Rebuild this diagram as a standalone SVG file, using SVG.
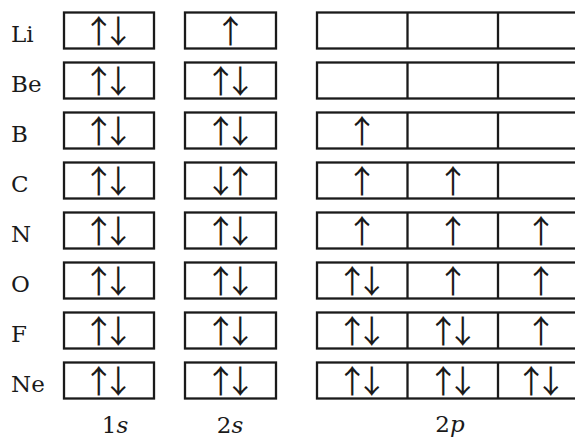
<svg xmlns="http://www.w3.org/2000/svg" width="575" height="438" viewBox="0 0 575 438">
<style>
.box{fill:none;stroke:#1a1a1a;stroke-width:2.3}
.lbl{font-family:"DejaVu Serif",serif;font-size:23px;fill:#1a1a1a}
.ar{font-family:"Noto Sans CJK SC",sans-serif;font-size:32px;fill:#1a1a1a;text-anchor:middle;letter-spacing:-12.5px}
.ax{font-family:"DejaVu Serif",serif;font-size:23px;fill:#1a1a1a;text-anchor:middle}
</style>
<rect width="575" height="438" fill="#fff"/>
<defs>
<g id="row">
<rect class="box" x="64" y="0" width="90" height="36"/>
<rect class="box" x="185" y="0" width="91" height="36"/>
<rect class="box" x="317" y="0" width="272" height="36"/>
<line class="box" x1="407.5" y1="0" x2="407.5" y2="36"/>
<line class="box" x1="498" y1="0" x2="498" y2="36"/>
</g>
</defs>
<g id="Li" transform="translate(0,12.5)"><use href="#row"/><text class="lbl" x="11" y="29">Li</text><text class="ar" x="102.25" y="30">↑↓</text><text class="ar" x="224.25" y="30">↑</text></g>
<g id="Be" transform="translate(0,62.5)"><use href="#row"/><text class="lbl" x="11" y="29">Be</text><text class="ar" x="102.25" y="30">↑↓</text><text class="ar" x="224.25" y="30">↑↓</text></g>
<g id="B" transform="translate(0,112.5)"><use href="#row"/><text class="lbl" x="11" y="29">B</text><text class="ar" x="102.25" y="30">↑↓</text><text class="ar" x="224.25" y="30">↑↓</text><text class="ar" x="355.75" y="30">↑</text></g>
<g id="C" transform="translate(0,162.5)"><use href="#row"/><text class="lbl" x="11" y="29">C</text><text class="ar" x="102.25" y="30">↑↓</text><text class="ar" x="224.25" y="30">↓↑</text><text class="ar" x="355.75" y="30">↑</text><text class="ar" x="446.75" y="30">↑</text></g>
<g id="N" transform="translate(0,212.5)"><use href="#row"/><text class="lbl" x="11" y="29">N</text><text class="ar" x="102.25" y="30">↑↓</text><text class="ar" x="224.25" y="30">↑↓</text><text class="ar" x="355.75" y="30">↑</text><text class="ar" x="446.75" y="30">↑</text><text class="ar" x="534.75" y="30">↑</text></g>
<g id="O" transform="translate(0,262.5)"><use href="#row"/><text class="lbl" x="11" y="29">O</text><text class="ar" x="102.25" y="30">↑↓</text><text class="ar" x="224.25" y="30">↑↓</text><text class="ar" x="355.75" y="30">↑↓</text><text class="ar" x="446.75" y="30">↑</text><text class="ar" x="534.75" y="30">↑</text></g>
<g id="F" transform="translate(0,312.5)"><use href="#row"/><text class="lbl" x="11" y="29">F</text><text class="ar" x="102.25" y="30">↑↓</text><text class="ar" x="224.25" y="30">↑↓</text><text class="ar" x="355.75" y="30">↑↓</text><text class="ar" x="446.75" y="30">↑↓</text><text class="ar" x="534.75" y="30">↑</text></g>
<g id="Ne" transform="translate(0,362.5)"><use href="#row"/><text class="lbl" x="11" y="29">Ne</text><text class="ar" x="102.25" y="30">↑↓</text><text class="ar" x="224.25" y="30">↑↓</text><text class="ar" x="355.75" y="30">↑↓</text><text class="ar" x="446.75" y="30">↑↓</text><text class="ar" x="534.75" y="30">↑↓</text></g>
<g id="axis">
<text class="ax" x="115" y="433">1<tspan font-style="italic">s</tspan></text>
<text class="ax" x="230" y="433">2<tspan font-style="italic">s</tspan></text>
<text class="ax" x="450" y="432">2<tspan font-style="italic">p</tspan></text>
</g>
</svg>
